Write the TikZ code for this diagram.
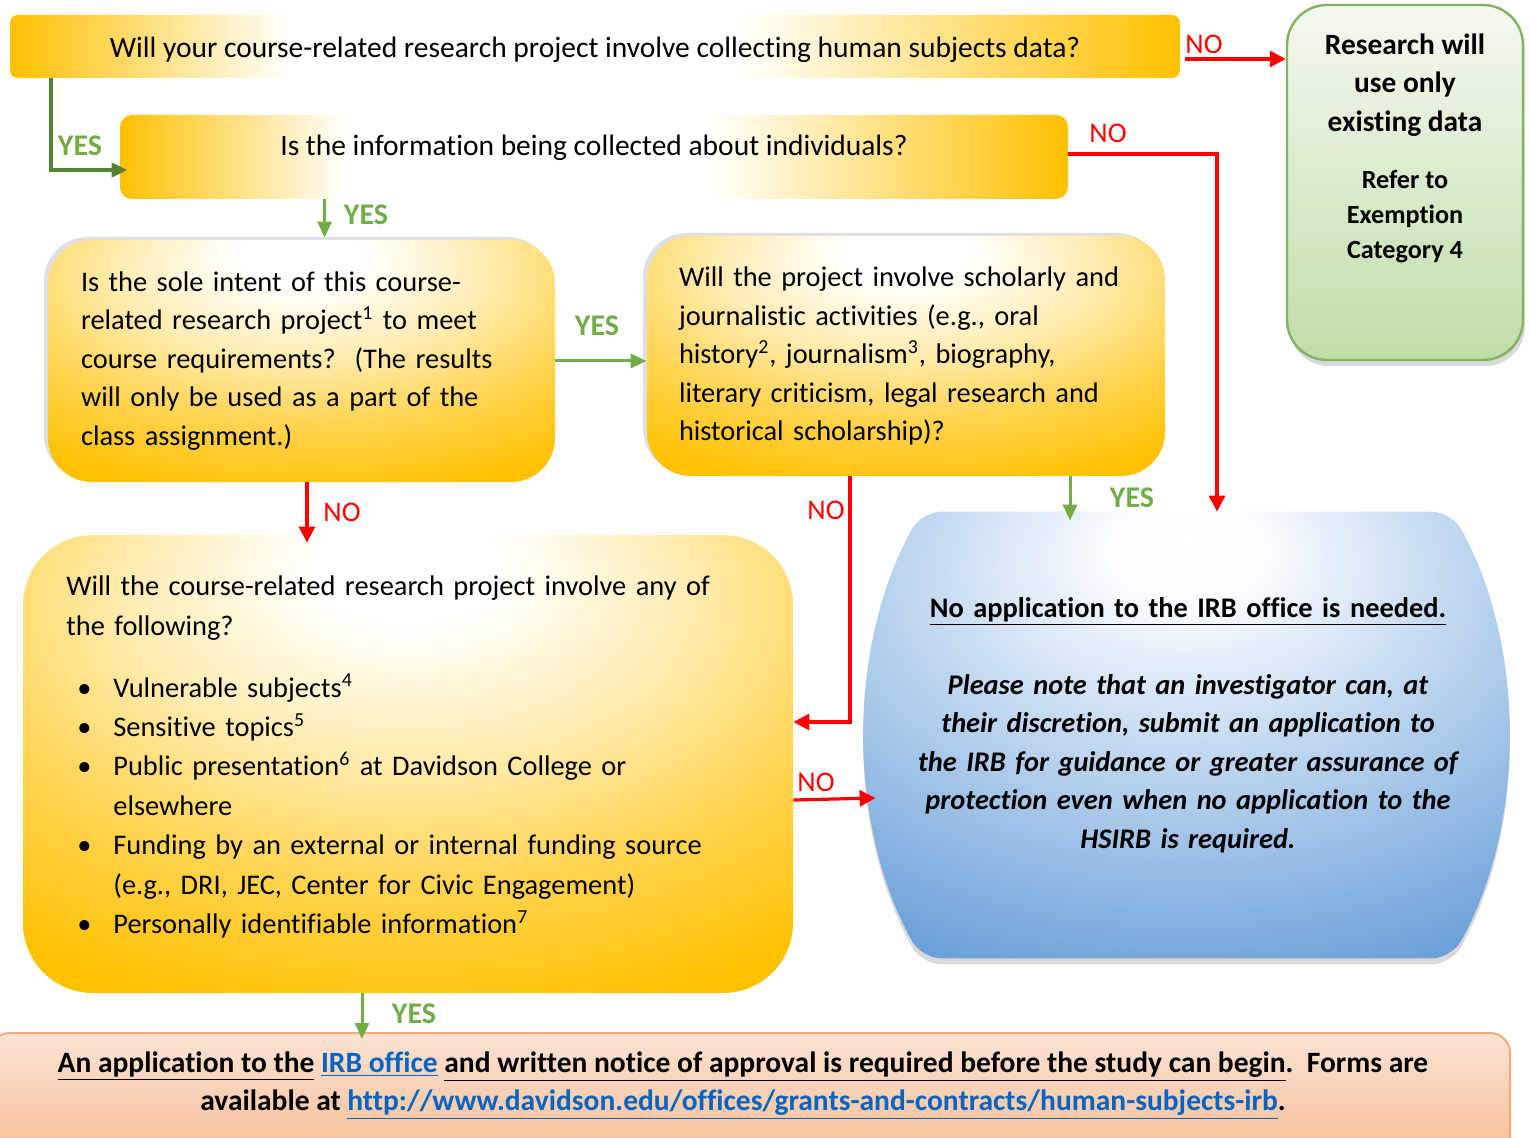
\documentclass[tikz,border=0pt]{standalone}
\usepackage{fontspec}
\setmainfont{Carlito}[Ligatures=NoCommon]
\usetikzlibrary{arrows.meta,calc,shadows}

\definecolor{boxorange}{HTML}{FFC000}
\definecolor{yesgreen}{HTML}{70AD47}
\definecolor{darkgreen}{HTML}{548235}
\definecolor{nored}{HTML}{FF0000}
\definecolor{greentop}{HTML}{F4F9F0}
\definecolor{greenbot}{HTML}{BFDDA8}
\definecolor{greenrim}{HTML}{82B262}
\definecolor{bluebase}{HTML}{6A9FD8}
\definecolor{bluemid}{HTML}{B0CDEC}
\definecolor{peachtop}{HTML}{FBE3D3}
\definecolor{peachbot}{HTML}{F5BC95}
\definecolor{peachrim}{HTML}{F2AA7A}
\definecolor{linkblue}{HTML}{0563C1}

% the path box covers the middle 50bp of each shading
\pgfdeclarehorizontalshading{barshade}{100bp}{color(0bp)=(boxorange); color(25bp)=(boxorange); color(37bp)=(white); color(56bp)=(white); color(75bp)=(boxorange); color(100bp)=(boxorange)}
\pgfdeclareradialshading{glowshade}{\pgfpoint{0bp}{23bp}}{color(0bp)=(white); color(6bp)=(white); color(18bp)=(boxorange!30); color(30bp)=(boxorange!70); color(42bp)=(boxorange); color(100bp)=(boxorange)}
\pgfdeclareradialshading{blueshade}{\pgfpoint{0bp}{22bp}}{color(0bp)=(white); color(6bp)=(white!92!bluemid); color(24bp)=(bluemid); color(42bp)=(bluebase); color(100bp)=(bluebase)}

\newcommand{\bulitem}{\hspace*{5.5pt}\makebox[18pt][l]{\textbullet}}
\newcommand{\bulcont}{\hspace*{23.5pt}}

\begin{document}
\begin{tikzpicture}[x=0.5pt,y=-0.5pt,
  every node/.style={font=\fontsize{14.2}{19.25}\selectfont},
  barbox/.style={shading=barshade,rounded corners=4pt,inner sep=0pt,font=\fontsize{14.75}{19.25}\selectfont},
  glowbox/.style={shading=glowshade,rounded corners=22pt,align=left,inner ysep=0pt},
  lift/.style={drop shadow={shadow xshift=-2pt,shadow yshift=1.5pt,opacity=.25}},
  yesline/.style={draw=yesgreen,line width=1.5pt,-{Triangle[length=8pt,width=7pt]}},
  noline/.style={draw=nored,line width=1.6pt,-{Triangle[length=8pt,width=8pt]}},
  yeslabel/.style={text=yesgreen,font=\fontsize{15}{17}\selectfont\bfseries},
  nolabel/.style={text=nored}]
\useasboundingbox (0,0) rectangle (1530,1138);

% question boxes
\node[barbox,minimum width=585pt,minimum height=31.5pt] (collect) at (595,46.5)
  {\raisebox{-1.5pt}[\height][\depth]{Will your course-related research project involve collecting human subjects data?}};
\node[barbox,rounded corners=6pt,minimum width=474pt,minimum height=42pt,text depth=12pt] (individ) at (594,157)
  {Is the information being collected about individuals?};
\node[glowbox,lift,text width=220.5pt,inner xsep=16.5pt,minimum height=121pt] (soleintent) at (301.5,361)
  {Is the sole intent of this course-\\related research project\textsuperscript{1} to meet\\course requirements?\ \ (The results\\will only be used as a part of the\\class assignment.)};
\node[glowbox,lift,text width=227pt,inner xsep=16pt,minimum height=120pt] (scholarly) at (906,356)
  {Will the project involve scholarly and\\journalistic activities (e.g., oral\\history\textsuperscript{2}, journalism\textsuperscript{3}, biography,\\literary criticism, legal research and\\historical scholarship)?};
\node[glowbox,rounded corners=35pt,minimum width=385pt,minimum height=229pt] (anyof) at (408,764) {};
\node[text width=342pt,align=left,inner sep=0pt,anchor=west,font=\fontsize{14.2}{19.7}\selectfont] (anyoftxt) at (66,757)
  {Will the course-related research project involve any of\\the following?\\[11.3pt]
   \bulitem Vulnerable subjects\textsuperscript{4}\\
   \bulitem Sensitive topics\textsuperscript{5}\\
   \bulitem Public presentation\textsuperscript{6} at Davidson College or\\
   \bulcont elsewhere\\
   \bulitem Funding by an external or internal funding source\\
   \bulcont (e.g., DRI, JEC, Center for Civic Engagement)\\
   \bulitem Personally identifiable information\textsuperscript{7}};

% outcomes
\node[draw=greenrim,line width=1.2pt,top color=greentop,bottom color=greenbot,rounded corners=20pt,
  minimum width=118pt,minimum height=177.5pt,
  drop shadow={shadow xshift=1pt,shadow yshift=-3pt,opacity=.3}] (existing) at (1405,182.5) {};
\node[font=\fontsize{14.7}{19.25}\selectfont\bfseries,align=center] (existtop) at (1405,85) {Research will\\use only\\existing data};
\node[font=\fontsize{13.1}{17.5}\selectfont\bfseries,align=center] (existbot) at (1405,217) {Refer to\\Exemption\\Category 4};

\node[minimum width=320.5pt,minimum height=223pt] (noapp) at (1186.5,735) {};
\path[shading=blueshade,rounded corners=10pt,drop shadow={shadow xshift=0pt,shadow yshift=-3pt,opacity=.3}]
  ($(noapp.north west)+(56,0)$)
  .. controls ($(noapp.north west)+(-18.7,134.6)$) and ($(noapp.south west)+(-18.7,-134.6)$) .. ($(noapp.south west)+(56,0)$)
  -- ($(noapp.south east)+(-56,0)$)
  .. controls ($(noapp.south east)+(18.7,-134.6)$) and ($(noapp.north east)+(18.7,134.6)$) .. ($(noapp.north east)+(-56,0)$)
  -- cycle;
\node[font=\fontsize{14.2}{19.25}\selectfont\bfseries,text width=300pt,align=center] (noapptxt) at (1188,725)
  {\underline{No application to the IRB office is needed.}\\[19.25pt]
   \itshape Please note that an investigator can, at\\their discretion, submit an application to\\the IRB for guidance or greater assurance of\\protection even when no application to the\\HSIRB is required.};

\node[draw=peachrim,line width=1pt,top color=peachtop,bottom color=peachbot,rounded corners=10pt,
  minimum width=760pt,minimum height=63.5pt] (apply) at (750,1096.5) {};
\node[font=\fontsize{14.75}{19.25}\selectfont\bfseries,align=center] (applytxt) at (743,1085.5)
  {\underline{An application to the} \textcolor{linkblue}{\underline{IRB office}} \underline{and written notice of approval is required before the study can begin}.\ \ Forms are\\
   available at \textcolor{linkblue}{\underline{http://www.davidson.edu/offices/grants-and-contracts/human-subjects-irb}}.};

% connectors
\draw[yesline,draw=darkgreen,line width=2pt] ($(collect.south west)+(41,0)$) |- ($(individ.west)+(8,13)$);
\node[yeslabel] (yesA) at (80,146) {YES};
\coordinate (noA) at ($(collect.east)+(5,12.5)$);
\draw[noline] (noA) -- (noA -| existing.west);
\node[nolabel] (noAlbl) at (1204,44) {NO};
\draw[noline] ($(individ.east)+(0,-3)$) -| ($(noapp.north)+(30.5,0)$);
\node[nolabel] (noBlbl) at (1108,133) {NO};
\coordinate (yB) at ($(individ.south west)+(205,0)$);
\draw[yesline] (yB) -- ($(yB |- soleintent.north)+(0,-2)$);
\node[yeslabel] (yesB) at (366,215) {YES};
\draw[yesline] (soleintent.east) -- (scholarly.west |- soleintent.east);
\node[yeslabel] (yesC) at (597,326) {YES};
\coordinate (noC) at ($(soleintent.south)+(5.5,0)$);
\draw[noline] (noC) -- ($(noC |- anyof.north)+(0,8)$);
\node[nolabel] (noClbl) at (342,512) {NO};
\coordinate (yD) at ($(scholarly.south)+(164,0)$);
\draw[yesline] (yD) -- ($(yD |- noapp.north)+(0,9)$);
\node[yeslabel] (yesD) at (1132,498) {YES};
\draw[noline] ($(scholarly.south)+(-56,0)$) |- ($(anyof.east)+(0,-42)$);
\node[nolabel] (noDlbl) at (826,510) {NO};
\draw[noline] ($(anyof.east)+(0,36)$) -- ($(noapp.west)+(10,63)$);
\node[nolabel] (noElbl) at (816,782) {NO};
\coordinate (yE) at ($(anyof.south)+(-46,0)$);
\draw[yesline] (yE) -- ($(yE |- apply.north)+(0,7)$);
\node[yeslabel] (yesE) at (414,1014) {YES};
\end{tikzpicture}
\end{document}
